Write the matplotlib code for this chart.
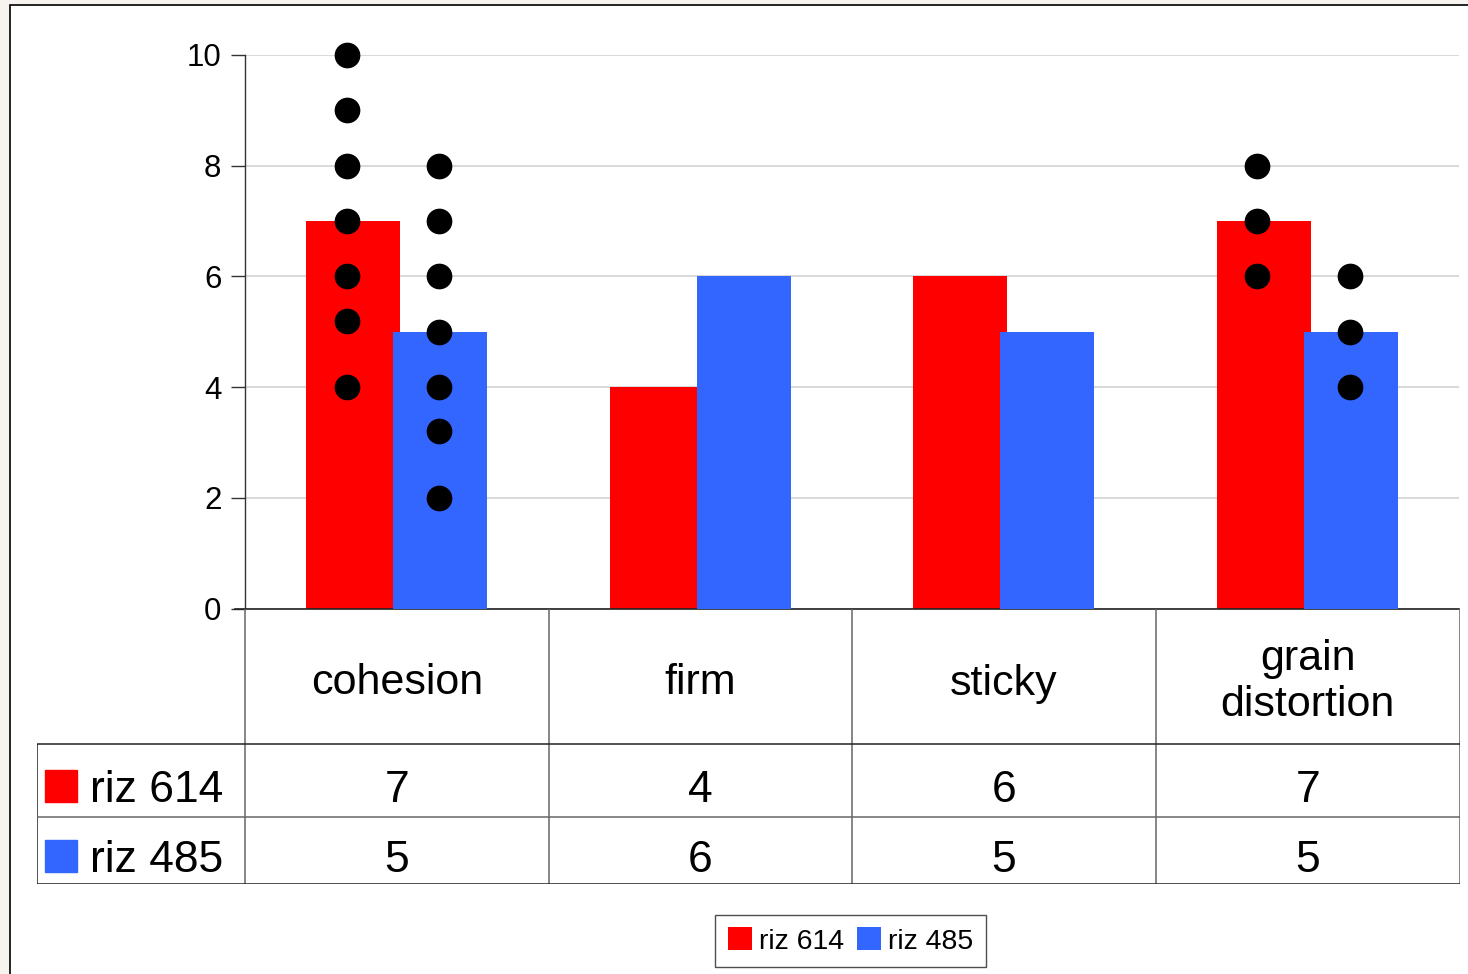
import matplotlib
matplotlib.use("Agg")
import matplotlib.pyplot as plt
from matplotlib.patches import Rectangle, Patch

plt.rcParams['font.family'] = ['Liberation Sans', 'DejaVu Sans']

# ---- data ----
categories = ["cohesion", "firm", "sticky", "grain\ndistortion"]
series_names = ["riz 614", "riz 485"]
riz614 = [7, 4, 6, 7]
riz485 = [5, 6, 5, 5]
colors = ["#ff0000", "#3366ff"]

# individual scores shown as dots (category index -> values)
dots614 = {0: [10, 9, 8, 7, 6, 5.2, 4], 3: [8, 7, 6]}
dots485 = {0: [8, 7, 6, 5, 4, 3.2, 2], 3: [6, 5, 4]}

yticks = [0, 2, 4, 6, 8, 10]

# ---- figure in pixel units ----
W, H = 1468, 974
fig = plt.figure(figsize=(W / 100, H / 100), dpi=100)
fig.patch.set_facecolor("#f7f3ee")


def px_axes(left, top, right, bottom, **kw):
    return fig.add_axes([left / W, 1 - bottom / H, (right - left) / W, (bottom - top) / H], **kw)


# white page with a black frame
bg = px_axes(0, 0, W, H)
bg.set_xlim(0, W)
bg.set_ylim(H, 0)
bg.axis("off")
bg.add_patch(Rectangle((10, 5), W + 20, H + 20, facecolor="white", edgecolor="black", lw=1.2))

# ---- bar chart ----
ax = px_axes(245, 55, 1459, 608.5)
ax.set_facecolor("none")
x = list(range(len(categories)))
bw = 0.31
off = 0.143
ax.bar([i - off for i in x], riz614, width=bw, color=colors[0], zorder=2)
ax.bar([i + off for i in x], riz485, width=bw, color=colors[1], zorder=3)

dot_off614, dot_off485 = -0.165, 0.14
for i, vals in dots614.items():
    ax.plot([i + dot_off614] * len(vals), vals, "o", color="black", ms=17.5, zorder=5, clip_on=False)
for i, vals in dots485.items():
    ax.plot([i + dot_off485] * len(vals), vals, "o", color="black", ms=17.5, zorder=5, clip_on=False)

ax.set_xlim(-0.5, 3.5)
ax.set_ylim(0, 10)
ax.set_yticks(yticks)
ax.set_yticklabels([str(t) for t in yticks], fontsize=22.5)
ax.set_xticks([])
ax.yaxis.grid(True, color="#d6d6d6", lw=1.3, zorder=0)
ax.set_axisbelow(True)
for s in ("top", "right"):
    ax.spines[s].set_visible(False)
ax.spines["left"].set_color("#333333")
ax.spines["bottom"].set_color("#222222")
ax.spines["left"].set_linewidth(1.0)
ax.spines["bottom"].set_linewidth(1.2)
ax.spines["bottom"].set_bounds(-0.5 - 10 / 303.5, 3.5)
ax.tick_params(axis="y", length=10, width=1.0, color="#333333", pad=7)

# ---- data table below the plot ----
unit = (1459 - 245) / 4.0
xmin = -0.5 - (245 - 37) / unit
tb = px_axes(37, 608.5, 1459.5, 884)
tb.set_xlim(xmin, 3.5)
tb.set_ylim(275.5, 0)
tb.axis("off")
r1, r2, r3 = 135.5, 208.5, 275.5
line_dark = dict(color="#222222", lw=1.1, solid_capstyle="butt")
line_mid = dict(color="#666666", lw=1.1, solid_capstyle="butt")
for b in [-0.5, 0.5, 1.5, 2.5, 3.5]:
    tb.plot([b, b], [0, r3], **line_mid)
tb.plot([xmin, xmin], [r1, r3], **line_dark)
tb.plot([xmin, 3.5], [r1, r1], **line_dark)
tb.plot([xmin, 3.5], [r2, r2], **line_mid)
tb.plot([xmin, 3.5], [r3, r3], **line_dark)

fs = 31
for i, c in enumerate(categories):
    if "\n" in c:
        tb.text(i, 107, c, ha="center", va="baseline", fontsize=fs, linespacing=1.18)
    else:
        tb.text(i, 86, c, ha="center", va="baseline", fontsize=fs)
    tb.text(i, 193.5, str(riz614[i]), ha="center", va="baseline", fontsize=fs + 1)
    tb.text(i, 263, str(riz485[i]), ha="center", va="baseline", fontsize=fs + 1)

for name, col, ybase in [(series_names[0], colors[0], 193.5), (series_names[1], colors[1], 263)]:
    tb.plot([xmin + 24 / unit], [ybase - 16], "s", color=col, ms=23, clip_on=False)
    tb.text(xmin + 53 / unit, ybase, name, ha="left", va="baseline", fontsize=fs + 1)

# ---- legend ----
handles = [Patch(facecolor=colors[0], edgecolor="none"), Patch(facecolor=colors[1], edgecolor="none")]
leg = fig.legend(handles, series_names, loc="center", bbox_to_anchor=(850.5 / W, 1 - 941 / H),
                 ncol=2, fontsize=20.5, frameon=True, fancybox=False, handlelength=0.85,
                 handleheight=0.85, handletextpad=0.25, columnspacing=0.45, borderpad=0.45,
                 borderaxespad=0)
leg.get_frame().set_edgecolor("#222222")
leg.get_frame().set_linewidth(1.0)

fig.savefig("out.png", dpi=100, facecolor=fig.get_facecolor())
